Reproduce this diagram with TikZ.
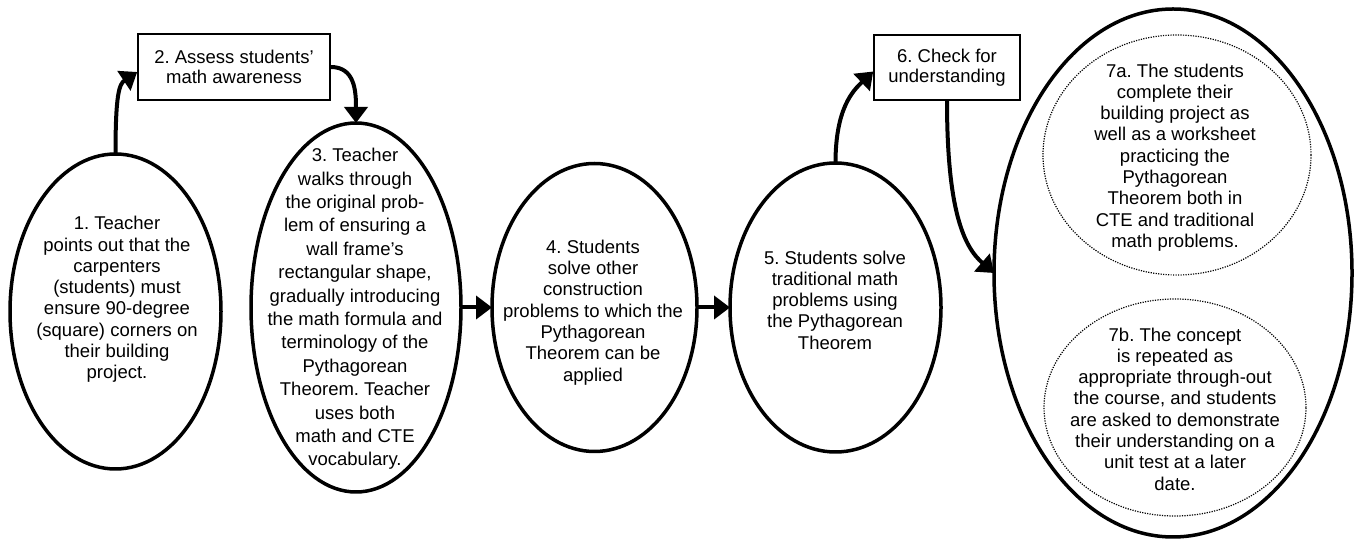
\documentclass[tikz,border=0pt]{standalone}
\usepackage{fontspec}
\setmainfont{Liberation Sans}
\usetikzlibrary{arrows.meta,positioning,shapes.geometric}
\frenchspacing

\begin{document}
\begin{tikzpicture}[
    x=1pt, y=1pt,
    oval/.style={draw=black, ellipse, line width=3.5pt, inner sep=0pt, outer sep=0pt},
    subgoal/.style={draw=black, ellipse, dash pattern=on 1.2pt off 1.3pt, line width=1.2pt, inner sep=0pt, outer sep=0pt},
    stepbox/.style={draw=black, rectangle, line width=1.6pt, align=center, inner sep=2pt,
                    font=\fontsize{18.5}{20.5}\selectfont},
    steptext/.style={align=center, inner sep=0pt, font=\fontsize{18.5}{21.3}\selectfont},
    longtext/.style={steptext, font=\fontsize{18.5}{23.4}\selectfont},
    arrow/.style={-{Triangle[length=16pt,width=23pt]}, line width=4pt, draw=black}
]
\path[use as bounding box, fill=white] (0,0) rectangle (1354,540);

% lesson steps
\node[oval, minimum width=211pt, minimum height=315pt] (s1) at (115.5,228.5) {};
\node[oval, minimum width=210pt, minimum height=369pt, right=30pt of s1, yshift=4pt] (s3) {};
\node[oval, minimum width=205pt, minimum height=288pt, right=31pt of s3] (s4) {};
\node[oval, minimum width=211pt, minimum height=289pt, right=33pt of s4] (s5) {};
\node[oval, minimum width=358pt, minimum height=528pt] (s7) at (1173,267) {};
\node[subgoal, minimum width=268pt, minimum height=240pt] (s7a) at (1177,385) {};
\node[subgoal, minimum width=262pt, minimum height=217pt] (s7b) at (1175,132.5) {};

\node[stepbox, minimum width=192pt, minimum height=66pt] (b2) at (234,473) {2. Assess students'\\math awareness};
\node[stepbox, minimum width=146pt, minimum height=65pt] (b6) at (947,472.5) {6. Check for\\understanding};

\node[steptext] (s1text) at (117,240.5) {1. Teacher\\points out that the\\carpenters\\(students) must\\ensure 90-degree\\(square) corners on\\their building\\project.};
\node[longtext] (s3text) at (355,231) {3. Teacher\\walks through\\the original prob-\\lem of ensuring a\\wall frame's\\rectangular shape,\\gradually introducing\\the math formula and\\terminology of the\\Pythagorean\\Theorem. Teacher\\uses both\\math and CTE\\vocabulary.};
\node[steptext] (s4text) at (593,227.5) {4. Students\\solve other\\construction\\problems to which the\\Pythagorean\\Theorem can be\\applied};
\node[steptext] (s5text) at (835,240) {5. Students solve\\traditional math\\problems using\\the Pythagorean\\Theorem};
\node[steptext] (s7atext) at (1175,382.5) {7a. The students\\complete their\\building project as\\well as a worksheet\\practicing the\\Pythagorean\\Theorem both in\\CTE and traditional\\math problems.};
\node[steptext] (s7btext) at (1175,131) {7b. The concept\\is repeated as\\appropriate through-out\\the course, and students\\are asked to demonstrate\\their understanding on a\\unit test at a later\\date.};

% connectors
\draw[arrow] (s1.north) .. controls +(0,60) and +(-18,-12) .. ([yshift=-5pt]b2.west);
\draw[arrow] (b2.east) .. controls +(24,0) and +(0,32) .. (s3.north);
\draw[arrow] (s3) -- (s4);
\draw[arrow] (s4) -- (s5);
\draw[arrow] (s5.north) .. controls +(0,55) and +(-20,-19) .. ([yshift=-4pt]b6.west);
\draw[arrow] (b6.south) .. controls +(0,-110) and +(-30,26) .. (s7.west);
\end{tikzpicture}
\end{document}
